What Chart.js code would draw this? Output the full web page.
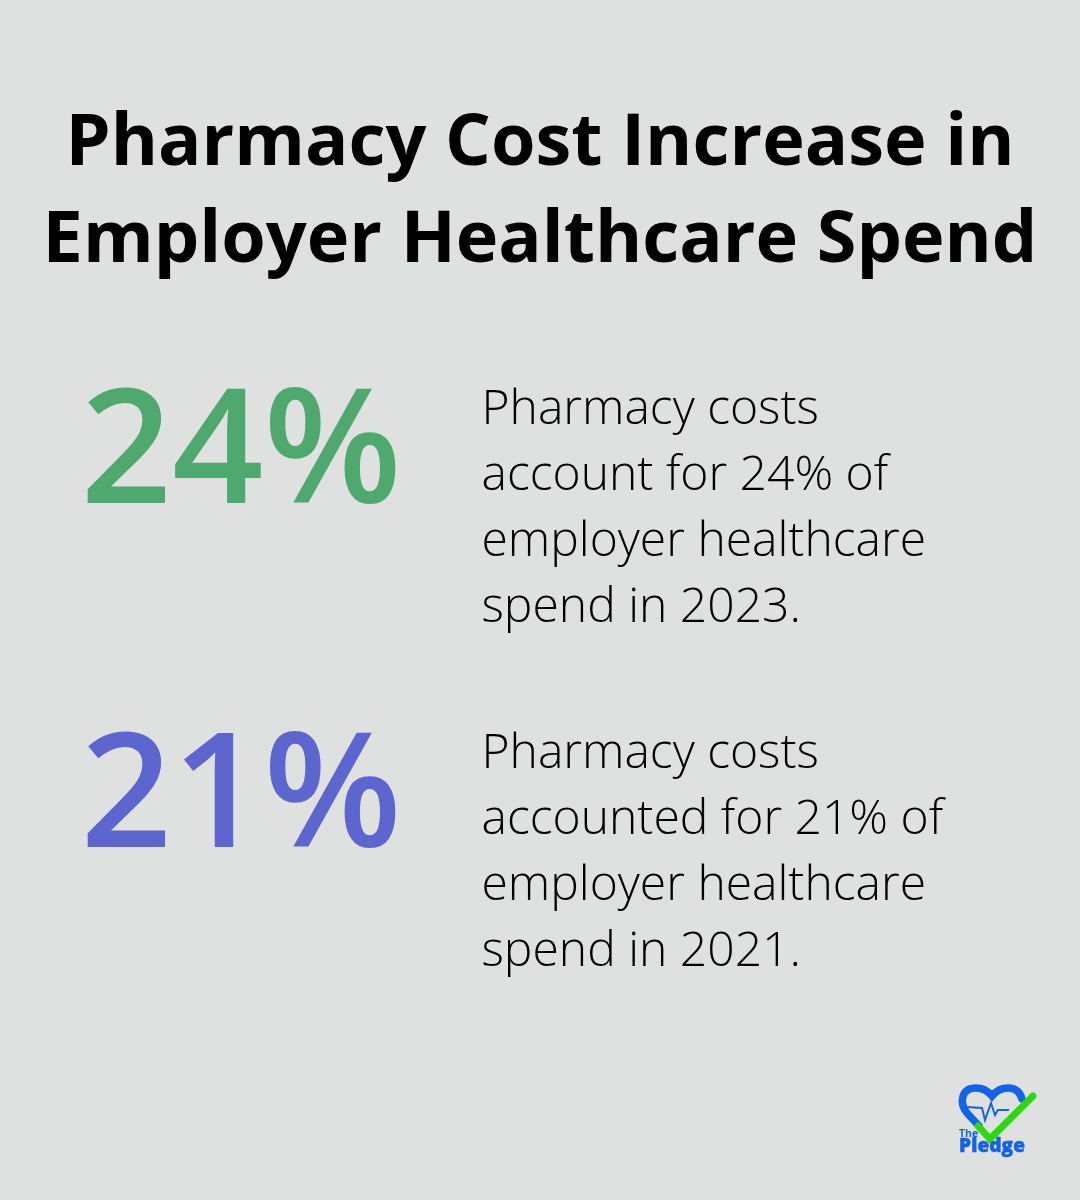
<!DOCTYPE html>
<html>
<head>
<meta charset="utf-8">
<title>Pharmacy Cost Increase in Employer Healthcare Spend</title>
<script src="https://cdn.jsdelivr.net/npm/chart.js@4"></script>
<style>
  html, body { margin: 0; padding: 0; background: #dfe1e0; }
  #page { position: relative; width: 1080px; height: 1200px; overflow: hidden; font-family: "Open Sans", sans-serif; }
  #chart-box { position: absolute; left: 0; top: 0; width: 1080px; height: 1200px; }
  h1 { position: absolute; left: 0; top: 88.5px; width: 1080px; margin: 0; text-align: center; font-size: 72px; line-height: 97px; font-weight: 700; color: #000; }
  .desc { position: absolute; left: 481.5px; width: 560px; font-size: 48px; line-height: 66px; font-weight: 300; color: #000; }
  #logo { position: absolute; left: 950px; top: 1078px; width: 100px; height: 90px; }
</style>
</head>
<body>
<div id="page">
  <div id="chart-box"><canvas id="stat-chart"></canvas></div>
  <h1 id="title"></h1>
  <div class="desc" id="desc-0" style="top:373px"></div>
  <div class="desc" id="desc-1" style="top:717px"></div>
  <svg id="logo" viewBox="0 0 100 90">
    <path d="M29 48 L17 35 C9 25 11 10 26 10 C33 10 38 13 42 18 C46 13 51 10 58 10 C65 10 70 14 72 21" fill="none" stroke="#1463e6" stroke-width="7.5" stroke-linecap="round"/>
    <path d="M17 29 L32 30 L35 42 L41 25 L45 37 L48 32 L59 32" fill="none" stroke="#1463e6" stroke-width="2"/>
    <path d="M28 48 L40 61 L83 18" fill="none" stroke="#2fd614" stroke-width="7" stroke-linecap="round"/>
    <text x="9" y="59" font-family="Open Sans" font-size="10.5" font-weight="700" fill="#1463e6">The</text>
    <text x="9" y="74" font-family="Open Sans" font-size="19" font-weight="800" fill="#1463e6" stroke="#1463e6" stroke-width="0.5" textLength="66">Pledge</text>
  </svg>
</div>
<script>
'use strict';

// ── Data ────────────────────────────────────────────────
const titleLines = ['Pharmacy Cost Increase in', 'Employer Healthcare Spend'];
const years      = ['2023', '2021'];
const shares     = [24, 21];   // % of employer healthcare spend
const colors     = ['#4fa96f', '#5d65cf'];
const descLines  = [
  ['Pharmacy costs', 'account for 24% of', 'employer healthcare', 'spend in 2023.'],
  ['Pharmacy costs', 'accounted for 21% of', 'employer healthcare', 'spend in 2021.'],
];

// ── Text blocks ─────────────────────────────────────────
document.getElementById('title').innerHTML = titleLines.join('<br>');
descLines.forEach((lines, i) => {
  document.getElementById(`desc-${i}`).innerHTML = lines.join('<br>');
});

// ── Big percentage labels, anchored on each bar's base ──
const statLabels = {
  id: 'statLabels',
  afterDatasetsDraw(chart) {
    const ctx = chart.ctx;
    ctx.save();
    ctx.font = '600 160px "Open Sans"';
    ctx.textAlign = 'left';
    ctx.textBaseline = 'middle';
    chart.getDatasetMeta(0).data.forEach((bar, i) => {
      ctx.fillStyle = colors[i];
      ctx.fillText(`${shares[i]}%`, bar.base, bar.y);
    });
    ctx.restore();
  },
};

// ── Chart.js ────────────────────────────────────────────
new Chart(document.getElementById('stat-chart'), {
  type: 'bar',
  data: {
    labels: years,
    datasets: [{ data: shares, backgroundColor: 'transparent', borderWidth: 0 }],
  },
  options: {
    indexAxis: 'y',
    animation: false,
    responsive: true,
    maintainAspectRatio: false,
    layout: { padding: { left: 80.5, top: 285, bottom: 227, right: 620 } },
    plugins: { legend: { display: false }, tooltip: { enabled: false } },
    scales: {
      x: { display: false, min: 0, max: 100 },
      y: { display: false },
    },
  },
  plugins: [statLabels],
});
</script>
</body>
</html>
